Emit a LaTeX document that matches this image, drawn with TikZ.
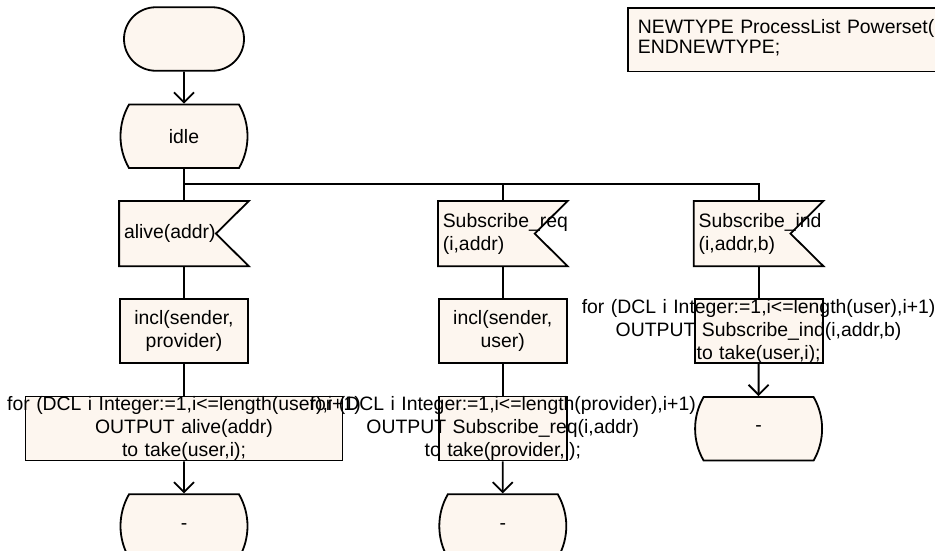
\documentclass[tikz,border=0pt]{standalone}
\usepackage{fontspec}
\setmainfont{Liberation Sans}
\usetikzlibrary{positioning,shapes.misc,arrows.meta,backgrounds}
\definecolor{sdlfill}{HTML}{FDF6EF}

\tikzset{
  sdlline/.style={draw=black, line width=1.8pt},
  sdl/.style={sdlline, fill=sdlfill, minimum width=128pt, minimum height=63.5pt,
              inner xsep=4pt, inner ysep=0pt, font=\fontsize{19.4}{23}\selectfont},
  startbox/.style={sdl, rounded rectangle},
  statebox/.style={sdl, rounded rectangle, rounded rectangle arc length=60},
  inputbox/.style={sdl, rectangle, draw=none, fill=none, text width=120pt, align=left},
  taskbox/.style={sdl, rectangle, text width=120pt, align=center},
  flow/.style={line width=1.8pt},
  flowarrow/.style={flow, -{Straight Barb[length=10pt,width=20pt]}},
}
% long lines run over the box edges on both sides
\newcommand{\spill}[1]{\makebox[0pt]{#1}}
% notched outline of an input symbol, drawn behind its text
\newcommand{\notched}[1]{%
  \filldraw[sdlline, fill=sdlfill] (#1.north west) -- (#1.north east)
    -- ([xshift=-33pt]#1.east) -- (#1.south east) -- (#1.south west) -- cycle;}

\begin{document}
\begin{tikzpicture}[x=1pt, y=-1pt, node distance=32pt]
  \useasboundingbox (0,0) rectangle (935,550);

  \node[sdl, rectangle, anchor=north west, minimum width=360pt, minimum height=0pt,
        text width=340pt, align=left, inner xsep=10pt, inner ysep=12pt,
        font=\fontsize{19.4}{19.5}\selectfont] (newtype) at (627,7)
        {NEWTYPE ProcessList Powerset(P\\ENDNEWTYPE;\rule[-6pt]{0pt}{6pt}};

  \node[startbox] (start) at (184,39) {};
  \node[statebox, below=of start] (idle) {idle};

  % first branch
  \node[inputbox, below=of idle] (alive) {alive(addr)};
  \node[taskbox, below=of alive] (inclprov) {incl(sender,\\provider)};
  \node[taskbox, minimum width=317pt, text width=309pt, below=of inclprov] (outalive)
    {\spill{for (DCL i Integer:=1,i<=length(user),i+1)}\\
     \spill{OUTPUT alive(addr)}\\
     \spill{to take(user,i);}};
  \node[statebox, below=of outalive] (stopa) {-};

  % second branch
  \node[inputbox, right=189pt of alive] (subreq) {Subscribe\_req\\(i,addr)};
  \node[taskbox, below=of subreq] (inclusr) {incl(sender,\\user)};
  \node[taskbox, below=of inclusr] (outreq)
    {\spill{for (DCL i Integer:=1,i<=length(provider),i+1)}\\
     \spill{OUTPUT Subscribe\_req(i,addr)}\\
     \spill{to take(provider,i);}};
  \node[statebox, below=of outreq] (stopb) {-};

  % third branch
  \node[inputbox, right=126pt of subreq] (subind) {Subscribe\_ind\\(i,addr,b)};
  \node[taskbox, below=of subind] (outind)
    {\spill{for (DCL i Integer:=1,i<=length(user),i+1)}\\
     \spill{OUTPUT Subscribe\_ind(i,addr,b)}\\
     \spill{to take(user,i);}};
  \node[statebox, below=of outind] (stopc) {-};

  \begin{scope}[on background layer]
    \notched{alive} \notched{subreq} \notched{subind}
  \end{scope}

  \coordinate (fork) at ([yshift=17pt]alive.north);

  \draw[flowarrow] (start) -- (idle);
  \draw[flow] (idle) -- (alive);
  \draw[flow] (fork) -| (subreq.north) (fork) -| (subind.north);
  \draw[flow] (alive) -- (inclprov) (inclprov) -- (outalive);
  \draw[flow] (subreq) -- (inclusr) (inclusr) -- (outreq);
  \draw[flow] (subind) -- (outind);
  \draw[flowarrow] (outalive) -- (stopa);
  \draw[flowarrow] (outreq) -- (stopb);
  \draw[flowarrow] (outind) -- (stopc);
\end{tikzpicture}
\end{document}
